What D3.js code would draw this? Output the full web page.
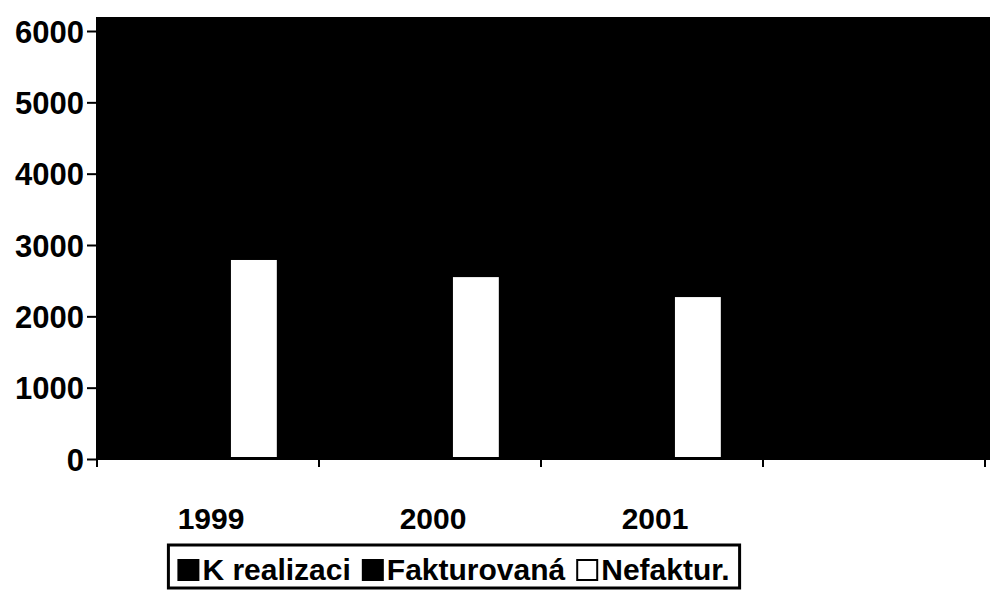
<!DOCTYPE html>
<html>
<head>
<meta charset="utf-8">
<script src="https://cdn.jsdelivr.net/npm/d3@7"></script>
<style>
  body { margin: 0; background: #fff; }
  text { font-family: "Liberation Sans", Arial, sans-serif; font-weight: bold; }
</style>
</head>
<body>
<div id="chart"></div>
<script>
// data (black bars sit on a black plot area, so their
// heights can only be guessed)
var categories = ["1999", "2000", "2001", ""];
var seriesNames = ["K realizaci", "Fakturovaná", "Nefaktur."];
var kRealizaci = [5600, 5200, 4900];
var fakturovana = [2800, 2650, 2650];
var nefaktur = [2790, 2550, 2270];
var yTicks = [0, 1000, 2000, 3000, 4000, 5000, 6000];

var seriesValues = [kRealizaci, fakturovana, nefaktur];
var seriesFill = ["#000", "#000", "#fff"];

var svgWidth = 990;
var svgHeight = 591;

var margin = { top: 31, right: 5, bottom: 132, left: 97 };
var width = svgWidth - margin.left - margin.right;
var height = svgHeight - margin.top - margin.bottom;

var svg = d3.select("#chart")
  .append("svg")
  .attr("width", svgWidth)
  .attr("height", svgHeight);

var chartGroup = svg.append("g")
  .attr("transform", `translate(${margin.left}, ${margin.top})`);

// scales
var x0 = d3.scaleBand()
  .domain(categories)
  .range([0, 888]);

var groupWidth = x0.bandwidth() * 0.62;
var x1 = d3.scaleBand()
  .domain(seriesNames)
  .range([(x0.bandwidth() - groupWidth) / 2, (x0.bandwidth() + groupWidth) / 2]);

var yLinearScale = d3.scaleLinear()
  .domain([0, 6000])
  .range([height, 0]);

// black plot area (reaches a little above the 6000 line and to the page edge)
chartGroup.append("rect")
  .attr("x", -1)
  .attr("y", -14)
  .attr("width", svgWidth - margin.left + 1)
  .attr("height", height + 14)
  .attr("fill", "#000");

// bars
var rows = [];
categories.forEach(function(c, i) {
  seriesNames.forEach(function(s, j) {
    if (seriesValues[j][i] != null) {
      rows.push({ cat: c, series: s, value: seriesValues[j][i], fill: seriesFill[j] });
    }
  });
});

chartGroup.selectAll(".bar")
  .data(rows)
  .enter()
  .append("rect")
  .attr("class", "bar")
  .attr("x", d => x0(d.cat) + x1(d.series))
  .attr("y", d => yLinearScale(d.value))
  .attr("width", x1.bandwidth())
  .attr("height", d => height - yLinearScale(d.value) - 2)
  .attr("fill", d => d.fill);

// y axis
var leftAxis = d3.axisLeft(yLinearScale)
  .tickValues(yTicks)
  .tickFormat(d3.format("d"))
  .tickSize(10)
  .tickPadding(3);

var yAxis = chartGroup.append("g")
  .call(leftAxis);
yAxis.select(".domain").remove();
yAxis.selectAll("line").attr("stroke", "#000").attr("stroke-width", 2);
yAxis.selectAll("text")
  .attr("fill", "#000")
  .style("font-size", "31px")
  .attr("dy", "0.36em");

// x axis: ticks at the band edges
var xAxis = chartGroup.append("g")
  .attr("transform", `translate(0, ${height})`);

xAxis.append("line")
  .attr("x1", 0)
  .attr("x2", svgWidth - margin.left)
  .attr("y1", 0)
  .attr("y2", 0)
  .attr("stroke", "#000")
  .attr("stroke-width", 2);

var edges = categories.map(c => x0(c)).concat([x0.range()[1]]);
xAxis.selectAll(".edge")
  .data(edges)
  .enter()
  .append("line")
  .attr("x1", d => d)
  .attr("x2", d => d)
  .attr("y1", 0)
  .attr("y2", 8)
  .attr("stroke", "#000")
  .attr("stroke-width", 2);

xAxis.selectAll(".cat")
  .data(categories)
  .enter()
  .append("text")
  .attr("x", d => x0(d) + x0.bandwidth() / 2 + 3)
  .attr("y", 70)
  .attr("text-anchor", "middle")
  .style("font-size", "30px")
  .text(d => d);

// legend
var legend = svg.append("g");
var legendItems = legend.selectAll(".item")
  .data(seriesNames)
  .enter()
  .append("g");

var cursor = 0;
legendItems.each(function(d, i) {
  var g = d3.select(this).attr("transform", `translate(${cursor}, 0)`);
  g.append("rect")
    .attr("x", 0)
    .attr("y", -20)
    .attr("width", 20)
    .attr("height", 20)
    .attr("fill", seriesFill[i])
    .attr("stroke", "#000")
    .attr("stroke-width", 2);
  var t = g.append("text")
    .attr("x", 24)
    .attr("y", 0)
    .style("font-size", "30px")
    .text(d);
  cursor += 24 + t.node().getComputedTextLength() + 12;
});

var legendWidth = cursor - 12;
var legendX = 454 - legendWidth / 2;
legend.attr("transform", `translate(${legendX}, 580)`);

legend.insert("rect", ":first-child")
  .attr("x", -10)
  .attr("y", -35)
  .attr("width", legendWidth + 20)
  .attr("height", 43)
  .attr("fill", "none")
  .attr("stroke", "#000")
  .attr("stroke-width", 3);
</script>
</body>
</html>
